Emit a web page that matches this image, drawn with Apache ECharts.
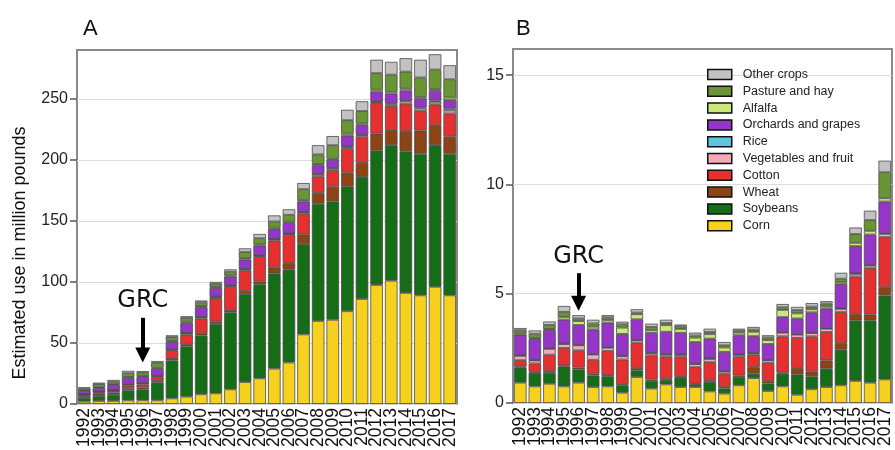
<!DOCTYPE html>
<html>
<head>
<meta charset="utf-8">
<script src="https://cdn.jsdelivr.net/npm/echarts@6/dist/echarts.min.js"></script>
<style>
html,body{margin:0;padding:0;background:#fff;}
#chart{width:895px;height:450px;}
</style>
</head>
<body>
<div id="chart"></div>
<script>
const years = ['1992','1993','1994','1995','1996','1997','1998','1999','2000','2001','2002','2003','2004','2005','2006','2007','2008','2009','2010','2011','2012','2013','2014','2015','2016','2017'];

// stacking order (bottom to top)
const cropNames = ['Corn','Soybeans','Wheat','Cotton','Vegetables and fruit','Rice','Orchards and grapes','Alfalfa','Pasture and hay','Other crops'];
const cropColors = ['#f6d21f','#156d17','#8c4414','#e63030','#f6a9bb','#5ec6dc','#9636c8','#cbe878','#6a9535','#c2c2c2'];
const legendOrder = ['Other crops','Pasture and hay','Alfalfa','Orchards and grapes','Rice','Vegetables and fruit','Cotton','Wheat','Soybeans','Corn'];

// Panel A (million pounds)
const cornA   = [2,2.5,2.5,3,3,3,4.6,6,8,8.7,12,18,21,29,34,57,68,69,76,86,97.5,101,91,89,96,89];
const soyA    = [3,4,5,8,9,14.5,31,41,48,57,63,72,77,78,76,74,96,97,102,100,110,111,116,116,116,116];
const wheatA  = [1.5,2,2,1.5,1.5,1.5,2,2,2,2,2,2.5,2.5,5,5.5,8,9,12,11.5,11.5,14,12.5,16.5,19,16.5,14];
const cottonA = [1,1,1.2,2.5,2.5,3,6,8,12,19,19,17,20,22,23,17,13.5,13.5,19.5,21,25,19.5,22.5,16,17,19];
const vegA    = [0.6,0.6,0.8,1,1,1,1,1,1,1,1,1,1,1,1,1,1.5,1.5,1.5,1.5,1,1.5,2,2,2,2.5];
const riceA   = [0.1,0.1,0.1,0.2,0.2,0.2,0.2,0.2,0.3,0.3,0.3,0.3,0.3,0.3,0.3,0.3,0.5,0.5,0.5,0.5,0.5,0.8,0.8,1,1,1.5];
const orchA   = [2.5,3,4,5,5,5.5,6,8,8,7,7,7.5,8,8,8.5,8.5,7,6.5,9,8,8,8,8,7,8,7];
const alfA    = [0.5,0.6,0.6,1,0.8,1,1,1.2,1,1,1,1.2,1,1.2,1.2,1.2,1,1,1.5,1.5,1.5,1.5,1.5,1.5,1.5,2];
const pastA   = [1.5,2.5,2,3,2.5,4,3,3,3,2.5,3,5,5,5,5.5,9,8,11,11,10,13.5,14,14,16,16,15];
const otherA  = [1,1.2,1.5,2,1.5,1.5,1.5,1.5,1.5,1.5,2,3,3.5,5,4.5,5,7.5,7.5,8.5,8,11,10.5,11,14.5,12.5,11.5];

// Panel B (million pounds)
const cornB   = [0.93,0.76,0.88,0.76,0.93,0.73,0.76,0.47,1.19,0.66,0.85,0.73,0.73,0.53,0.43,0.81,1.14,0.55,0.76,0.38,0.63,0.73,0.81,1.01,0.93,1.08];
const soyB    = [0.69,0.62,0.49,0.91,0.61,0.53,0.46,0.34,0.3,0.35,0.21,0.43,0.12,0.43,0.23,0.38,0.2,0.34,0.58,0.93,0.59,0.84,1.63,2.77,2.85,3.84];
const wheatB  = [0.05,0.05,0.09,0.05,0.08,0.08,0.05,0.05,0.12,0.06,0.05,0.03,0.03,0.1,0.07,0.07,0.3,0.12,0.06,0.3,0.23,0.38,0.3,0.3,0.27,0.38];
const cottonB = [0.29,0.38,0.75,0.8,0.79,0.64,1.11,1.13,1.13,1.11,1.02,0.91,0.76,0.81,0.61,0.84,0.58,0.82,1.65,1.37,1.6,1.3,1.42,1.71,2.12,2.29];
const vegB    = [0.2,0.14,0.27,0.18,0.23,0.24,0.15,0.15,0.12,0.1,0.09,0.1,0.14,0.15,0.1,0.1,0.06,0.12,0.17,0.15,0.15,0.15,0.15,0.12,0.12,0.15];
const riceB   = [0.02,0.02,0.02,0.02,0.02,0.02,0.02,0.02,0.02,0.02,0.02,0.02,0.02,0.02,0.02,0.02,0.02,0.02,0.02,0.02,0.02,0.02,0.02,0.02,0.02,0.03];
const orchB   = [0.95,0.95,0.84,1.1,0.91,1.13,1.13,1.0,0.95,0.91,1.02,0.99,0.99,0.91,0.88,0.88,0.76,0.73,0.69,0.72,0.93,0.91,1.11,1.25,1.4,1.45];
const alfB    = [0.05,0.05,0.05,0.12,0.18,0.12,0.12,0.29,0.23,0.12,0.3,0.18,0.2,0.2,0.2,0.12,0.2,0.18,0.33,0.23,0.14,0.1,0.1,0.15,0.17,0.15];
const pastB   = [0.15,0.2,0.18,0.23,0.12,0.15,0.12,0.15,0.08,0.15,0.1,0.12,0.1,0.1,0.1,0.1,0.1,0.12,0.12,0.15,0.12,0.12,0.15,0.4,0.49,1.19];
const otherB  = [0.1,0.15,0.16,0.27,0.15,0.17,0.1,0.12,0.15,0.15,0.15,0.08,0.13,0.15,0.15,0.08,0.12,0.1,0.15,0.15,0.16,0.11,0.27,0.3,0.43,0.53];

const dataA = [cornA,soyA,wheatA,cottonA,vegA,riceA,orchA,alfA,pastA,otherA];
const dataB = [cornB,soyB,wheatB,cottonB,vegB,riceB,orchB,alfB,pastB,otherB];

const yTicksA = [0,50,100,150,200,250];
const yTicksB = [0,5,10,15];
const grcYear = '1996';

const chart = echarts.init(document.getElementById('chart'), null, {renderer:'canvas'});

function makeSeries(data, axisIdx, stackName, ann) {
  return cropNames.map((name, i) => {
    const s = {
      name: name,
      type: 'bar',
      stack: stackName,
      xAxisIndex: axisIdx,
      yAxisIndex: axisIdx,
      data: data[i],
      barCategoryGap: '14%',
      itemStyle: {color: cropColors[i], borderColor: '#4a4a4a', borderWidth: 0.8},
      emphasis: {disabled: true},
      silent: true
    };
    if (i === 0) {
      s.markLine = {
        silent: true,
        symbol: ['none','triangle'],
        symbolSize: 15,
        lineStyle: {color: '#000', width: 4, type: 'solid'},
        itemStyle: {color: '#000'},
        label: {show: false},
        data: [[{coord: [grcYear, ann.arrowFrom]}, {coord: [grcYear, ann.arrowTo]}]]
      };
      s.markPoint = {
        silent: true,
        symbol: 'circle',
        symbolSize: 1,
        itemStyle: {color: 'rgba(0,0,0,0)'},
        label: {show: true, position: 'inside', formatter: 'GRC', fontSize: 24, color: '#111', fontFamily: 'DejaVu Sans'},
        data: [{coord: [grcYear, ann.text]}]
      };
    }
    return s;
  });
}

function yAxisCfg(idx, max, interval, ticks) {
  return {
    type: 'value', gridIndex: idx, min: 0, max: max, interval: interval,
    axisLine: {show: false},
    axisTick: {show: true, length: 7, customValues: ticks, lineStyle: {color: '#555', width: 1.5}},
    axisLabel: {
      fontSize: 16, color: '#222', margin: 9, fontFamily: 'Liberation Sans', customValues: ticks,
      formatter: v => ticks.indexOf(v) >= 0 ? String(v) : ''
    },
    splitLine: {show: true, lineStyle: {color: '#dcdcdc', width: 1}}
  };
}

function xAxisCfg(idx) {
  return {
    type: 'category', gridIndex: idx, data: years,
    axisLine: {show: false}, axisTick: {show: false},
    axisLabel: {rotate: 90, interval: 0, fontSize: 17.5, color: '#111', margin: 4, fontFamily: 'Liberation Sans'}
  };
}

const option = {
  animation: false,
  backgroundColor: '#fff',
  textStyle: {fontFamily: 'Liberation Sans'},
  title: [
    {text: 'A', left: 78, top: 13, textStyle: {fontSize: 22, fontWeight: 'normal', color: '#111', fontFamily: 'Liberation Sans'}},
    {text: 'B', left: 511, top: 13, textStyle: {fontSize: 22, fontWeight: 'normal', color: '#111', fontFamily: 'Liberation Sans'}}
  ],
  legend: {
    data: legendOrder,
    orient: 'vertical',
    left: 707, top: 68, padding: 0,
    icon: 'rect',
    itemWidth: 24, itemHeight: 10, itemGap: 3.8,
    itemStyle: {borderColor: '#111', borderWidth: 1.5},
    textStyle: {fontSize: 12.5, lineHeight: 13, color: '#222', fontFamily: 'Liberation Sans', padding: [0,0,0,6]},
    selectedMode: false
  },
  grid: [
    {left: 77, top: 50, width: 380, height: 354, show: true, borderColor: '#8a8a8a', borderWidth: 2, backgroundColor: '#fff', containLabel: false},
    {left: 513, top: 49, width: 379, height: 354, show: true, borderColor: '#8a8a8a', borderWidth: 2, backgroundColor: '#fff', containLabel: false}
  ],
  xAxis: [xAxisCfg(0), xAxisCfg(1)],
  yAxis: [yAxisCfg(0, 290, 50, yTicksA), yAxisCfg(1, 16.2, 5, yTicksB)],
  graphic: [{
    type: 'text', x: 20, y: 253, rotation: Math.PI / 2,
    style: {text: 'Estimated use in million pounds', fontSize: 18, fill: '#111', align: 'center', verticalAlign: 'middle', fontFamily: 'Liberation Sans'}
  }],
  series: [].concat(
    makeSeries(dataA, 0, 'A', {arrowFrom: 70.6, arrowTo: 40.2, text: 84.6}),
    makeSeries(dataB, 1, 'B', {arrowFrom: 5.94, arrowTo: 4.57, text: 6.68})
  )
};
chart.setOption(option);
</script>
</body>
</html>
